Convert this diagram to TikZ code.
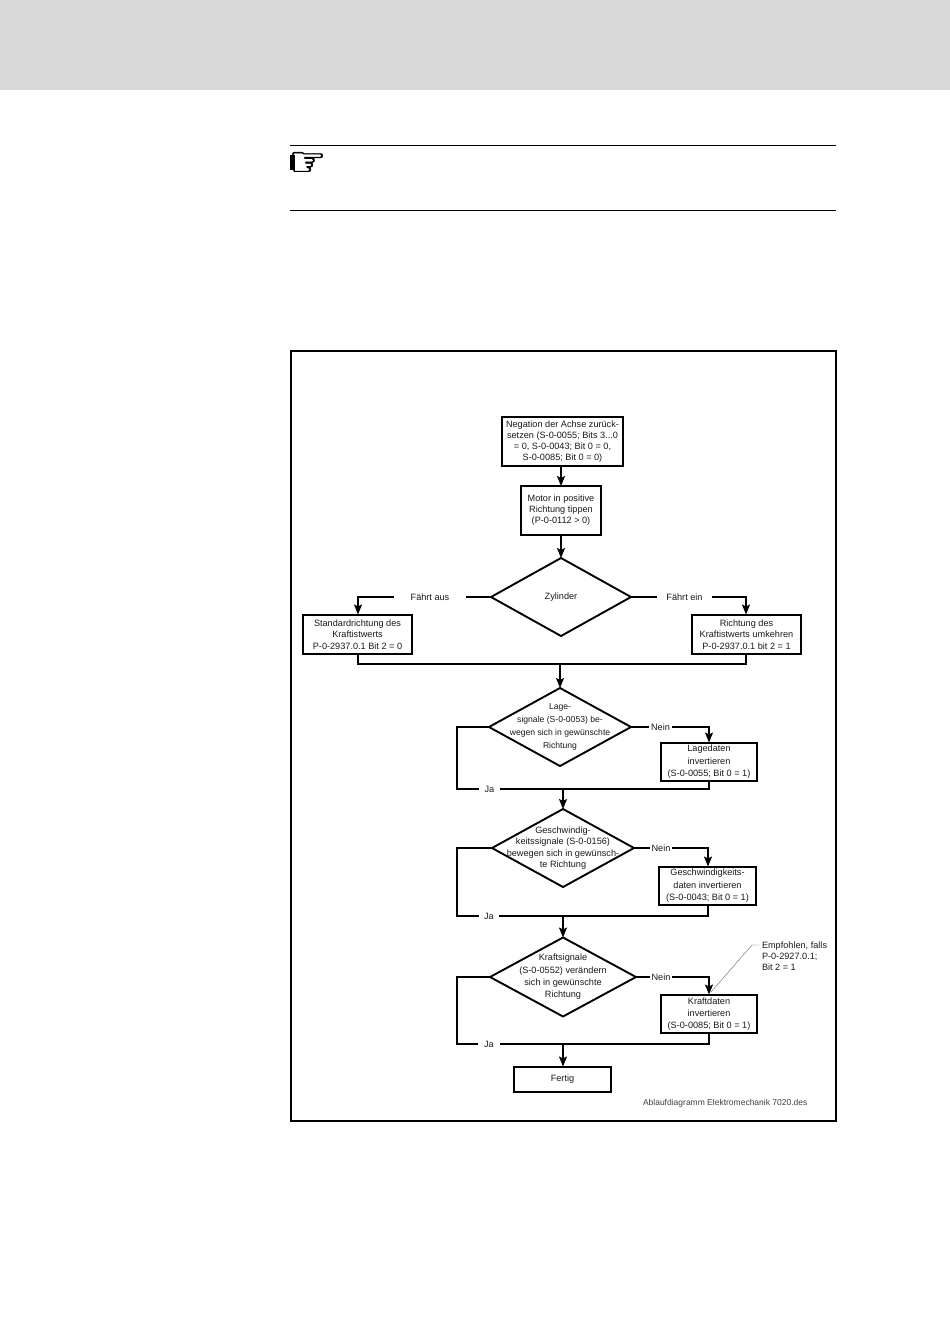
\documentclass[tikz,border=0pt]{standalone}
\usepackage{fontspec}
\setmainfont{Liberation Sans}
\newfontfamily\symfont[FakeBold=1.2]{DejaVu Sans}
\usetikzlibrary{shapes.geometric,arrows.meta,positioning}
\definecolor{band}{HTML}{D9D9D9}
\definecolor{txt}{HTML}{1A1A1A}
\tikzset{
  x=1pt,y=-1pt,
  base/.style={inner sep=0pt,outer sep=0pt,align=center,text=txt,font=\fontsize{9.15}{11}\selectfont},
  boxnode/.style={base,draw=black,line width=2pt},
  dia/.style={draw=black,line width=1.9pt},
  conn/.style={draw=black,line width=1.7pt},
  arr/.style={conn,-{Stealth[length=10pt,width=8pt,inset=2pt]}},
  lab/.style={base,fill=white,inner xsep=2pt,inner ysep=1pt},
  txtnode/.style={base,align=left},
}
\newcommand{\rectnode}[6][11]{%
  \def\rn{#2}\def\ra{#3}\def\rb{#4}\def\rc{#5}\def\rd{#6}\def\rl{#1}\rectnodeB}
\newcommand{\rectnodeB}[1]{%
  \node[boxnode,font=\fontsize{9.15}{\rl}\selectfont,minimum width=\rc-\ra,minimum height=\rd-\rb] (\rn) at ({(\ra+\rc)/2},{(\rb+\rd)/2}) {#1};}
\newcommand{\dianode}[6][11]{%
  \coordinate (#2n) at (#3,#4-#6); \coordinate (#2s) at (#3,#4+#6);
  \coordinate (#2w) at (#3-#5,#4); \coordinate (#2e) at (#3+#5,#4);
  \draw[dia,line join=miter] (#2n)--(#2e)--(#2s)--(#2w)--cycle;
  \def\rn{#2}\def\ra{#3}\def\rb{#4}\def\rl{#1}\dianodeB}
\newcommand{\dianodeB}[1]{%
  \node[base,font=\fontsize{\fs}{\rl}\selectfont] (\rn) at (\ra,\rb) {#1};}
\def\fs{9.15}
\begin{document}
\begin{tikzpicture}
\useasboundingbox (0,0) rectangle (950,1344);
\fill[white] (0,0) rectangle (950,1344);
\fill[band] (0,0) rectangle (950,90);
% note rules
\coordinate (r1a) at (290,145.5); \coordinate (r1b) at (836,145.5);
\coordinate (r2a) at (290,210.5); \coordinate (r2b) at (836,210.5);
\draw[line width=1pt] (r1a)--(r1b);
\draw[line width=1pt] (r2a)--(r2b);
\node[inner sep=0pt,anchor=west] (hand) at (288.5,164) {\fontsize{42}{42}\symfont ☞};
\fill[black] (290,154.5) rectangle (295,169.5);
% frame
\draw[line width=2pt] (291,351) rectangle (836,1121);
% boxes
\rectnode{b1}{502}{416.5}{623}{466}{Negation der Achse zurück-\\setzen (S-0-0055; Bits 3...0\\= 0, S-0-0043; Bit 0 = 0,\\S-0-0085; Bit 0 = 0)}
\rectnode{b2}{521}{486}{601}{535}{Motor in positive\\Richtung tippen\\ (P-0-0112 > 0)}
\dianode{d1}{561}{597}{70}{39}{Zylinder}
\rectnode[11.5]{bl}{303}{614.5}{412}{654}{Standardrichtung des\\Kraftistwerts\\P-0-2937.0.1 Bit 2 = 0}
\rectnode[11.5]{br}{692}{614.5}{801}{654}{Richtung des\\Kraftistwerts umkehren\\P-0-2937.0.1 bit 2 = 1}
\def\fs{8.6}
\dianode[13]{d2}{560}{727}{71}{39}{Lage-\\signale (S-0-0053) be-\\wegen sich in gewünschte\\Richtung}
\def\fs{9.15}
\rectnode[12.5]{b3}{661}{742.5}{757}{781}{Lagedaten\\invertieren\\(S-0-0055; Bit 0 = 1)}
\dianode[11.3]{d3}{563}{848}{71}{39}{Geschwindig-\\keitssignale (S-0-0156)\\bewegen sich in gewünsch-\\te Richtung}
\rectnode[12.5]{b4}{659}{866.5}{756}{905}{Geschwindigkeits-\\daten invertieren\\(S-0-0043; Bit 0 = 1)}
\dianode[12.3]{d4}{563}{977}{73}{39.5}{Kraftsignale\\(S-0-0552) verändern\\sich in gewünschte\\Richtung}
\rectnode[12]{b5}{661}{994.5}{757}{1033}{Kraftdaten\\invertieren\\(S-0-0085; Bit 0 = 1)}
\rectnode{b6}{514}{1066.5}{611}{1092}{Fertig}
% junctions
\coordinate (mj) at (560,664);
\coordinate (j1) at (563,789);
\coordinate (j2) at (563,916);
\coordinate (j3) at (563,1044);
% connectors
\draw[arr] (b1.south -| b2.north) -- (b2.north);
\draw[arr] (b2.south) -- (d1n);
\draw[arr] (d1w) -- (358,597) -- (358,614.5);
\draw[arr] (d1e) -- (746,597) -- (746,614.5);
\draw[conn] (358,654) -- (358,664) -- (746,664) -- (746,654);
\draw[arr] (mj) -- (d2n);
\draw[arr] (d2e) -- (709,727) -- (709,742.5);
\draw[conn] (d2w) -- (457,727) -- (457,789) -- (709,789) -- (709,781);
\draw[arr] (j1) -- (d3n);
\draw[arr] (d3e) -- (708,848) -- (708,866.5);
\draw[conn] (d3w) -- (457,848) -- (457,916) -- (708,916) -- (708,905);
\draw[arr] (j2) -- (d4n);
\draw[arr] (d4e) -- (709,977) -- (709,994.5);
\draw[conn] (d4w) -- (457,977) -- (457,1044) -- (709,1044) -- (709,1033);
\draw[arr] (j3) -- (563,1066.5);
% labels
\node[lab,minimum width=72pt,minimum height=10pt] (l1) at (430,597) {Fährt aus};
\node[lab,minimum width=55pt,minimum height=10pt] (l2) at (684.5,597) {Fährt ein};
\node[lab] (l3) at (660.5,727) {Nein};
\node[lab,minimum width=21pt] (l4) at (489.5,789) {Ja};
\node[lab] (l5) at (661,848) {Nein};
\node[lab,minimum width=20pt] (l6) at (489,916) {Ja};
\node[lab] (l7) at (661,977) {Nein};
\node[lab,minimum width=22pt] (l8) at (489,1044) {Ja};
% note
\node[txtnode,anchor=north west] (note) at (762,942) {Empfohlen, falls\\P-0-2927.0.1;\\Bit 2 = 1};
\coordinate (nk) at (752,945);
\coordinate (ne) at (759,945);
\coordinate (nt) at (711,992);
\draw[line width=0.4pt,draw=black!60] (ne) -- (nk) -- (nt);
\node[base,anchor=west,text=black!75,font=\fontsize{8.5}{10}\selectfont] (file) at (643,1103.5) {Ablaufdiagramm Elektromechanik 7020.des};
\end{tikzpicture}
\end{document}
